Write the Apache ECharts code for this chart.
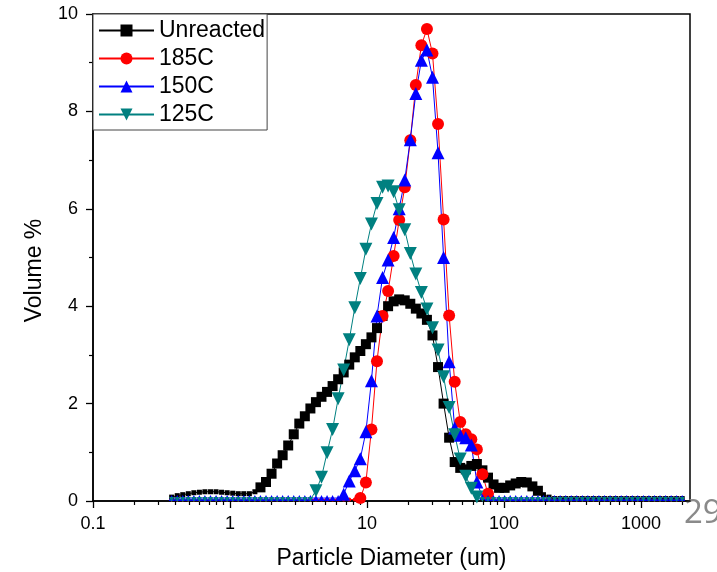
<!DOCTYPE html>
<html>
<head>
<meta charset="utf-8">
<script src="https://cdn.jsdelivr.net/npm/echarts@6/dist/echarts.min.js"></script>
<style>
  html, body { margin: 0; padding: 0; background: #fff; }
  #chart { width: 717px; height: 572px; }
</style>
</head>
<body>
<div id="chart"></div>
<script>
// Particle size channels (um), laser-diffraction size classes
const diameters = [
  0.375, 0.412, 0.452, 0.496, 0.545, 0.598, 0.656, 0.721, 0.791, 0.868,
  0.953, 1.047, 1.149, 1.261, 1.385, 1.520, 1.669, 1.832, 2.011, 2.208,
  2.423, 2.660, 2.920, 3.206, 3.519, 3.863, 4.240, 4.655, 5.110, 5.610,
  6.158, 6.760, 7.421, 8.147, 8.943, 9.817, 10.78, 11.83, 12.99, 14.26,
  15.65, 17.18, 18.86, 20.71, 22.73, 24.95, 27.39, 30.07, 33.01, 36.24,
  39.78, 43.67, 47.94, 52.62, 57.77, 63.41, 69.61, 76.42, 83.90, 92.09,
  101.1, 111.0, 121.8, 133.7, 146.8, 161.2, 176.9, 194.2, 213.2, 234.1,
  256.9, 282.1, 309.6, 339.9, 373.1, 409.6, 449.7, 493.6, 541.9, 594.9,
  653.0, 716.8, 786.9, 863.9, 948.3, 1041, 1143, 1255, 1377, 1512,
  1660, 1822, 2000
];

// Volume % per channel
const unreacted = [
  0.08, 0.11, 0.13, 0.15, 0.17, 0.18, 0.19, 0.19, 0.19, 0.18,
  0.17, 0.16, 0.15, 0.15, 0.15, 0.19, 0.28, 0.39, 0.56, 0.77,
  0.94, 1.14, 1.37, 1.59, 1.74, 1.90, 2.03, 2.14, 2.24, 2.36,
  2.50, 2.64, 2.80, 2.95, 3.08, 3.22, 3.36, 3.55, 3.80, 4.00,
  4.10, 4.14, 4.12, 4.05, 3.95, 3.85, 3.72, 3.40, 2.75, 2.00,
  1.30, 0.80, 0.68, 0.65, 0.72, 0.76, 0.63, 0.48, 0.34, 0.27,
  0.27, 0.32, 0.36, 0.39, 0.38, 0.30, 0.21, 0.13, 0.08, 0.05,
  0.05, 0.05, 0.05, 0.05, 0.05, 0.05, 0.05, 0.05, 0.05, 0.05,
  0.05, 0.05, 0.05, 0.05, 0.05, 0.05, 0.05, 0.05, 0.05, 0.05,
  0.05, 0.05, 0.05
];

const reacted185 = [
  0.03, 0.03, 0.03, 0.03, 0.03, 0.03, 0.03, 0.03, 0.03, 0.03,
  0.03, 0.03, 0.03, 0.03, 0.03, 0.03, 0.03, 0.03, 0.03, 0.03,
  0.03, 0.03, 0.03, 0.03, 0.03, 0.03, 0.03, 0.03, 0.03, 0.03,
  0.03, 0.03, 0.03, 0.03, 0.06, 0.38, 1.47, 2.87, 3.80, 4.31,
  5.03, 5.77, 6.44, 7.41, 8.54, 9.36, 9.69, 9.19, 7.74, 5.78,
  3.81, 2.45, 1.62, 1.37, 1.27, 1.06, 0.55, 0.15, 0.03, 0.03,
  0.03, 0.03, 0.03, 0.03, 0.03, 0.03, 0.03, 0.03, 0.03, 0.03,
  0.03, 0.03, 0.03, 0.03, 0.03, 0.03, 0.03, 0.03, 0.03, 0.03,
  0.03, 0.03, 0.03, 0.03, 0.03, 0.03, 0.03, 0.03, 0.03, 0.03,
  0.03, 0.03, 0.03
];

const reacted150 = [
  0.06, 0.06, 0.06, 0.06, 0.06, 0.06, 0.06, 0.06, 0.06, 0.06,
  0.06, 0.06, 0.06, 0.06, 0.06, 0.06, 0.06, 0.06, 0.06, 0.06,
  0.06, 0.06, 0.06, 0.06, 0.06, 0.06, 0.06, 0.06, 0.06, 0.06,
  0.06, 0.14, 0.41, 0.62, 0.87, 1.42, 2.47, 3.80, 4.59, 4.95,
  5.41, 6.00, 6.59, 7.42, 8.37, 9.05, 9.26, 8.70, 7.15, 5.00,
  2.86, 1.50, 1.35, 1.30, 1.15, 0.39, 0.08, 0.06, 0.06, 0.06,
  0.06, 0.06, 0.06, 0.06, 0.06, 0.06, 0.06, 0.06, 0.06, 0.06,
  0.06, 0.06, 0.06, 0.06, 0.06, 0.06, 0.06, 0.06, 0.06, 0.06,
  0.06, 0.06, 0.06, 0.06, 0.06, 0.06, 0.06, 0.06, 0.06, 0.06,
  0.06, 0.06, 0.06
];

const reacted125 = [
  0.03, 0.03, 0.03, 0.03, 0.03, 0.03, 0.03, 0.03, 0.03, 0.03,
  0.03, 0.03, 0.03, 0.03, 0.03, 0.03, 0.03, 0.03, 0.03, 0.03,
  0.03, 0.03, 0.03, 0.03, 0.03, 0.03, 0.21, 0.49, 0.99, 1.47,
  2.10, 2.69, 3.31, 3.97, 4.57, 5.17, 5.69, 6.11, 6.44, 6.47,
  6.35, 5.98, 5.57, 5.08, 4.66, 4.28, 3.94, 3.56, 3.10, 2.55,
  1.92, 1.36, 0.86, 0.51, 0.26, 0.08, 0.03, 0.03, 0.03, 0.03,
  0.03, 0.03, 0.03, 0.03, 0.03, 0.03, 0.03, 0.03, 0.03, 0.03,
  0.03, 0.03, 0.03, 0.03, 0.03, 0.03, 0.03, 0.03, 0.03, 0.03,
  0.03, 0.03, 0.03, 0.03, 0.03, 0.03, 0.03, 0.03, 0.03, 0.03,
  0.03, 0.03, 0.03
];

const seriesNames = ['Unreacted', '185C', '150C', '125C'];

// Axis ticks
const xMajorTicks = [0.1, 1, 10, 100, 1000];
const xMajorLabels = ['0.1', '1', '10', '100', '1000'];
const xMinorTicks = [
  0.2, 0.3, 0.4, 0.5, 0.6, 0.7, 0.8, 0.9,
  2, 3, 4, 5, 6, 7, 8, 9,
  20, 30, 40, 50, 60, 70, 80, 90,
  200, 300, 400, 500, 600, 700, 800, 900,
  2000
];
const xMin = 0.1, xMax = 2280;
const yMin = 0, yMax = 10, yStep = 2;

const FONT = '"Liberation Sans", Arial, Helvetica, sans-serif';

function pairs(ys) { return diameters.map((d, i) => [d, ys[i]]); }

// baseline points are drawn with small markers, the rest at full size
function sizer(limit, small, big) {
  return v => (v[1] < limit ? small : big);
}

function lineSeries(name, ys, color, symbol, sizeFn, rotate) {
  return {
    name: name,
    type: 'line',
    xAxisIndex: 0,
    yAxisIndex: 0,
    data: pairs(ys),
    symbol: symbol,
    symbolRotate: rotate || 0,
    symbolSize: sizeFn,
    showAllSymbol: true,
    lineStyle: { color: color, width: 1 },
    itemStyle: { color: color, borderWidth: 0 },
    emphasis: { disabled: true },
    animation: false
  };
}

// log-position helper axes that only carry the decade / sub-decade tick marks
const tickAxisBase = {
  type: 'value',
  gridIndex: 0,
  position: 'bottom',
  min: Math.log10(xMin),
  max: Math.log10(xMax),
  axisLine: { show: false, onZero: false },
  axisLabel: { show: false },
  splitLine: { show: false }
};

const chart = echarts.init(document.getElementById('chart'), null, { renderer: 'canvas' });

chart.setOption({
  animation: false,
  backgroundColor: '#ffffff',
  textStyle: { fontFamily: FONT },
  grid: {
    left: 93, right: 27, top: 14, bottom: 71,
    outerBoundsMode: 'none',
    containLabel: false,
    show: true, borderColor: '#000', borderWidth: 1.5,
    backgroundColor: 'transparent'
  },
  legend: {
    data: seriesNames,
    orient: 'vertical',
    left: 93, top: 14,
    itemWidth: 55, itemHeight: 15, itemGap: 5,
    padding: [5, 2, 4, 5],
    borderColor: '#444', borderWidth: 1,
    backgroundColor: '#fff',
    textStyle: { fontSize: 23, lineHeight: 20, color: '#000', fontFamily: FONT },
    selectedMode: false
  },
  xAxis: [
    {
      type: 'log', logBase: 10, gridIndex: 0, position: 'bottom',
      min: xMin, max: xMax,
      name: 'Particle Diameter (um)', nameLocation: 'middle', nameGap: 46,
      nameTextStyle: { fontSize: 23, color: '#000', fontFamily: FONT },
      axisLine: { show: true, onZero: false, lineStyle: { color: '#000', width: 1.5 } },
      axisTick: { show: false },
      splitLine: { show: false },
      axisLabel: {
        fontSize: 18, color: '#000', margin: 14, fontFamily: FONT,
        formatter: function (v) {
          for (let i = 0; i < xMajorTicks.length; i++) {
            if (Math.abs(Math.log10(v) - Math.log10(xMajorTicks[i])) < 1e-6) return xMajorLabels[i];
          }
          return '';
        }
      }
    },
    Object.assign({}, tickAxisBase, {
      axisTick: {
        show: true, length: 7, inside: false,
        customValues: xMajorTicks.map(v => Math.log10(v)),
        lineStyle: { color: '#000', width: 1.3 }
      }
    }),
    Object.assign({}, tickAxisBase, {
      axisTick: {
        show: true, length: 4, inside: false,
        customValues: xMinorTicks.map(v => Math.log10(v)),
        lineStyle: { color: '#000', width: 1.2 }
      }
    })
  ],
  yAxis: {
    type: 'value', gridIndex: 0,
    min: yMin, max: yMax, interval: yStep,
    name: 'Volume %', nameLocation: 'middle', nameGap: 47,
    nameTextStyle: { fontSize: 23, color: '#000', fontFamily: FONT, padding: [0, 26, 0, 0] },
    axisLine: { show: true, onZero: false, lineStyle: { color: '#000', width: 1.5 } },
    axisTick: { show: true, length: 7, inside: false, lineStyle: { color: '#000', width: 1.3 } },
    minorTick: { show: true, splitNumber: 2, length: 4, lineStyle: { color: '#000', width: 1.2 } },
    splitLine: { show: false },
    minorSplitLine: { show: false },
    axisLabel: { fontSize: 18, color: '#000', margin: 15, fontFamily: FONT }
  },
  series: [
    lineSeries(seriesNames[0], unreacted, '#000000', 'rect', sizer(0.2, 5, 10)),
    lineSeries(seriesNames[1], reacted185, '#ff0000', 'circle', sizer(0.05, 4, 12)),
    lineSeries(seriesNames[2], reacted150, '#0000ff', 'triangle', sizer(0.1, 6, 13)),
    lineSeries(seriesNames[3], reacted125, '#008080', 'triangle', sizer(0.05, 5, 13), 180)
  ],
  graphic: [
    {
      type: 'text', left: 684, top: 497, silent: true,
      style: { text: '29', fontSize: 33, fill: '#8a8a8a', fontFamily: '"Open Sans", "Noto Sans", sans-serif' }
    }
  ]
});
</script>
</body>
</html>
